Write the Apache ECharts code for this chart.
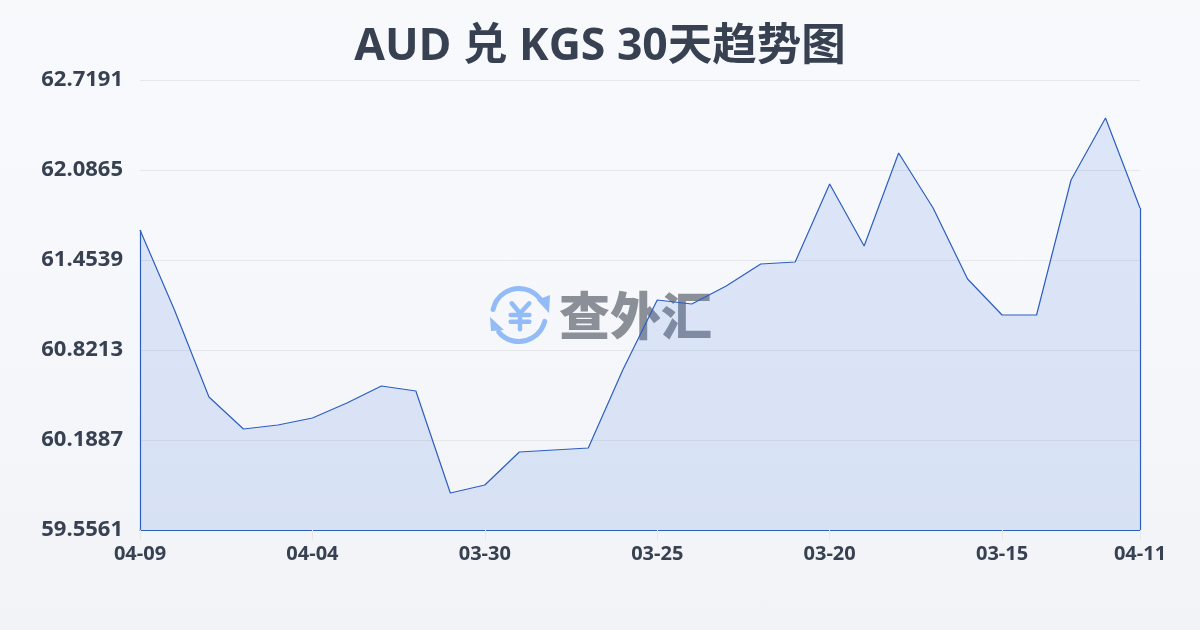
<!DOCTYPE html>
<html><head><meta charset="utf-8">
<style>html,body{margin:0;padding:0;width:1200px;height:630px;background:linear-gradient(180deg,#f8f9fb 0%,#f7f8fb 40%,#f1f3f6 100%);}#c{width:1200px;height:630px;}</style>
<script src="https://cdn.jsdelivr.net/npm/echarts@6/dist/echarts.min.js"></script>
</head><body><div id="c"></div>
<script>
const titleText = 'AUD 兑 KGS 30天趋势图';
const categories = ['04-09','04-08','04-07','04-06','04-05','04-04','04-03','04-02','04-01','03-31','03-30','03-29','03-28','03-27','03-26','03-25','03-24','03-23','03-22','03-21','03-20','03-19','03-18','03-17','03-16','03-15','03-14','03-13','03-12','04-11'];
const rates = [61.6648,61.1025,60.4909,60.266,60.2941,60.3433,60.4488,60.5683,60.5331,59.8162,59.8724,60.1044,60.1184,60.1325,60.6807,61.1727,61.1446,61.2712,61.4258,61.4398,61.9881,61.5523,62.206,61.8194,61.3204,61.0673,61.0673,62.0162,62.452,61.8194];
const yTicks = [59.5561,60.1887,60.8213,61.4539,62.0865,62.7191];
const yMin = yTicks[0], yMax = yTicks[yTicks.length-1];
const lastIdx = categories.length-1;
const chart = echarts.init(document.getElementById('c'),null,{renderer:'canvas'});
const font = '"Open Sans","Noto Sans CJK SC",sans-serif';
const cjk = '"Noto Sans CJK SC",sans-serif';
const D2R = Math.PI/180;
const logoBlue = '#93bbf8';
const yen = {stroke:logoBlue,lineWidth:4.5,lineCap:'round'};
chart.setOption({
  animation:false,
  backgroundColor:'transparent',
  title:{text:titleText,left:'center',top:20,padding:[5,0,5,3],textStyle:{fontFamily:font,fontSize:44.5,fontWeight:700,color:'#374151'}},
  grid:{left:140,right:60,top:80,bottom:100,containLabel:false},
  graphic:[
    {type:'group',left:490,top:286,z:0,children:[
      {type:'arc',shape:{cx:29,cy:29,r:26.5,startAngle:192*D2R,endAngle:325*D2R},style:{fill:'none',stroke:logoBlue,lineWidth:5,lineCap:'round'}},
      {type:'arc',shape:{cx:29,cy:29,r:26.5,startAngle:14*D2R,endAngle:140*D2R},style:{fill:'none',stroke:logoBlue,lineWidth:5,lineCap:'round'}},
      {type:'polygon',shape:{points:[[47,14],[60,9],[59,27]]},style:{fill:logoBlue}},
      {type:'polygon',shape:{points:[[0,31],[14,44],[1,45]]},style:{fill:logoBlue}},
      {type:'polyline',shape:{points:[[21.7,17.3],[30,27.3],[39.3,17.3]]},style:Object.assign({fill:'none'},yen)},
      {type:'line',shape:{x1:20.7,y1:29,x2:39.3,y2:29},style:yen},
      {type:'line',shape:{x1:20.7,y1:35.7,x2:39.3,y2:35.7},style:yen},
      {type:'line',shape:{x1:30,y1:27.3,x2:30,y2:43.3},style:yen}
    ]},
    {type:'text',left:559,top:290,z:0,style:{text:'查外汇',fontFamily:cjk,fontSize:51,fontWeight:900,fill:'#8b9098'}}
  ],
  xAxis:{type:'category',data:categories,boundaryGap:false,
    axisLine:{show:true,lineStyle:{color:'#2c5ec2',width:1.2}},
    axisTick:{show:true,length:10,interval:(i)=>i%5===0||i===lastIdx,lineStyle:{color:'#e5e7eb'}},
    axisLabel:{interval:(i)=>i%5===0||i===lastIdx,margin:14,fontFamily:font,fontSize:20,fontWeight:700,color:'#374151',hideOverlap:false},
    splitLine:{show:false}},
  yAxis:{type:'value',min:yMin,max:yMax,
    axisLine:{show:false},
    axisTick:{show:false,customValues:yTicks},
    axisLabel:{customValues:yTicks,margin:17,fontFamily:font,fontSize:22,fontWeight:700,color:'#374151',formatter:(v)=>v.toFixed(4)},
    splitLine:{show:true,lineStyle:{color:'#e5e7eb',width:1}}},
  series:[{type:'line',data:rates,symbol:'none',smooth:false,z:2,
    lineStyle:{color:'#2c5ec2',width:1.2},
    areaStyle:{color:'rgba(59,110,225,0.2)'},
    markLine:{silent:true,symbol:'none',label:{show:false},lineStyle:{color:'#2c5ec2',width:1.2,type:'solid'},animation:false,
      data:[
        [{coord:[categories[0],yMin]},{coord:[categories[0],rates[0]]}],
        [{coord:[categories[lastIdx],yMin]},{coord:[categories[lastIdx],rates[lastIdx]]}]
      ]}
  }]
});
</script></body></html>
